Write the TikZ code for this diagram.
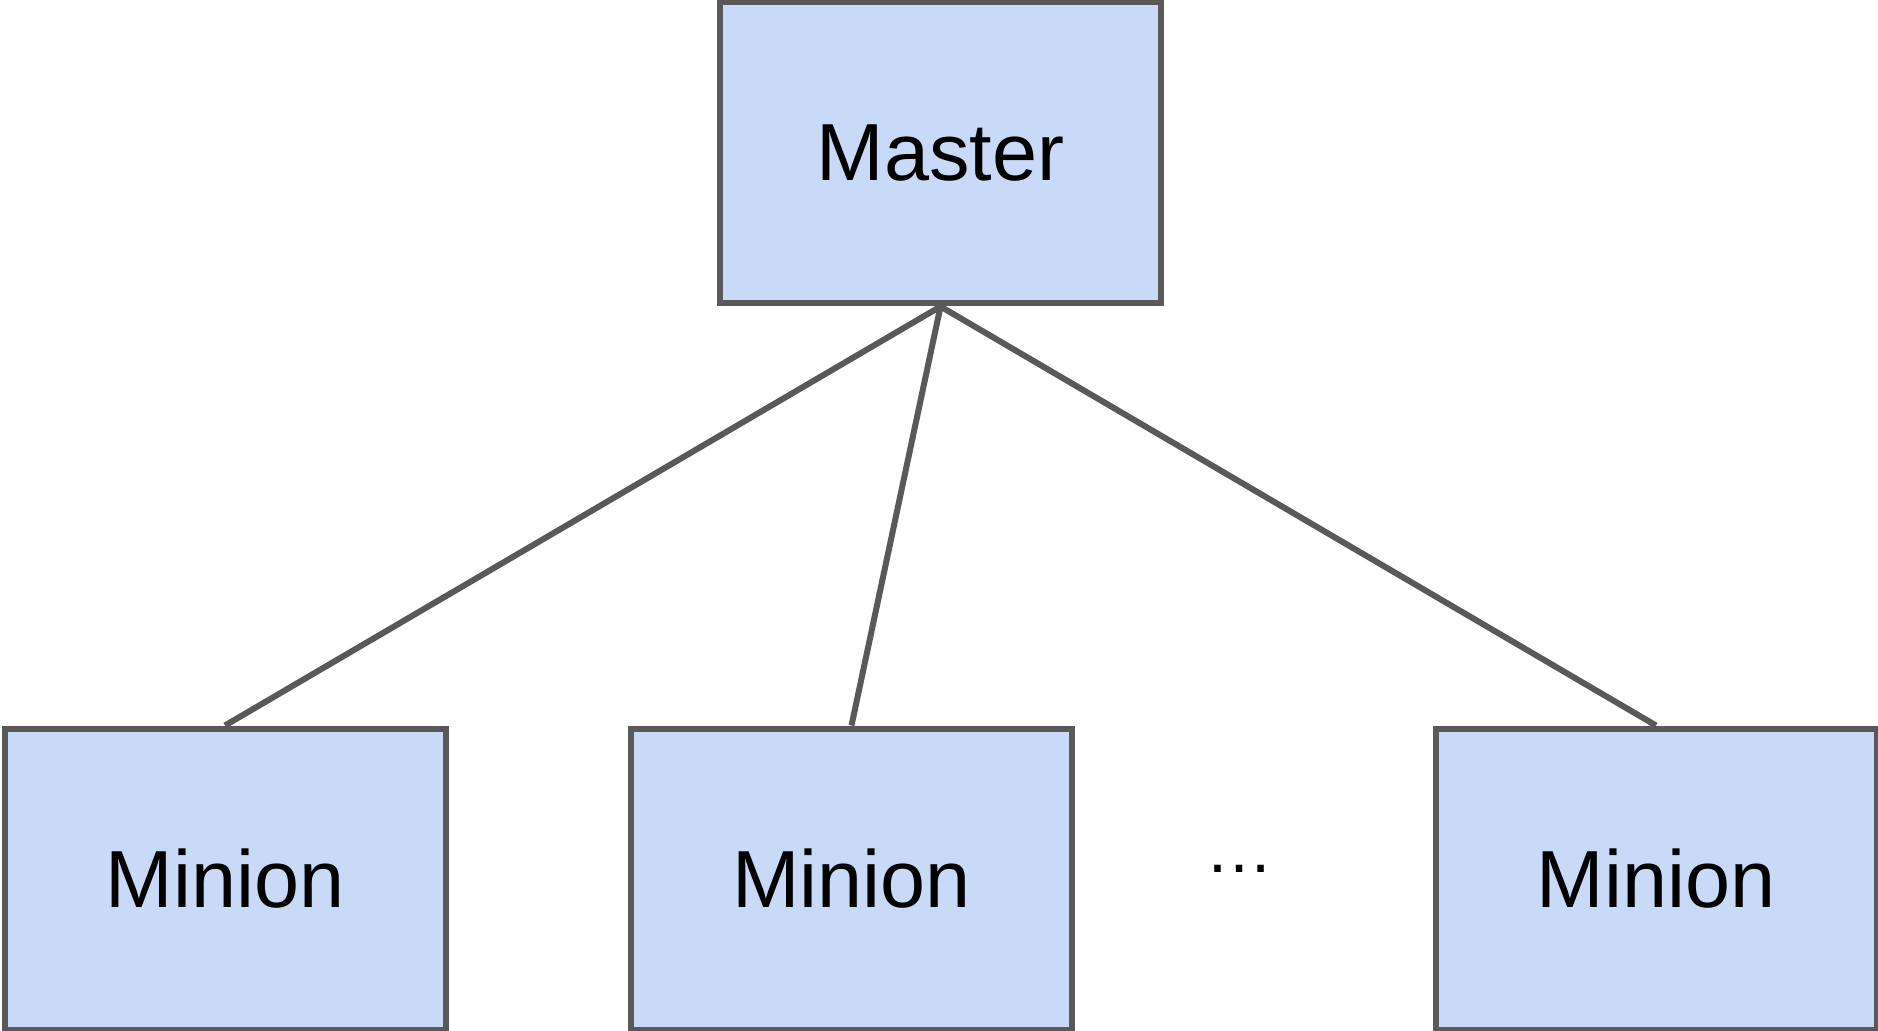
\documentclass[tikz,border=0pt]{standalone}
\usepackage{fontspec}
\setmainfont{Liberation Sans}
\usepackage{xcolor}
\usepackage{tikz}
\usetikzlibrary{positioning}
\definecolor{boxfill}{HTML}{C9DAF8}
\definecolor{boxline}{HTML}{595959}

\begin{document}
\begin{tikzpicture}[x=0.5pt, y=-0.5pt,
    every node/.style={font=\fontsize{40.5}{48}\selectfont},
    hostbox/.style={draw=boxline, fill=boxfill, line width=3pt, inner sep=0pt,
      minimum width=220.5pt, minimum height=150.5pt},
    link/.style={draw=boxline, line width=3pt}]
    \useasboundingbox (0,0) rectangle (1878,1031);
    \node[hostbox] (master) at (940.5,153) {Master};
    \foreach \x/\n in {225/m1, 851.5/m2, 1656/m3} {
      \node[hostbox] (\n) at (\x,879) {Minion};
      \draw[link] (master.south) -- (\n.north);
    }
    \node[font=\fontsize{34}{40}\selectfont, anchor=base] (dots) at (1239,872) {…};
\end{tikzpicture}
\end{document}
